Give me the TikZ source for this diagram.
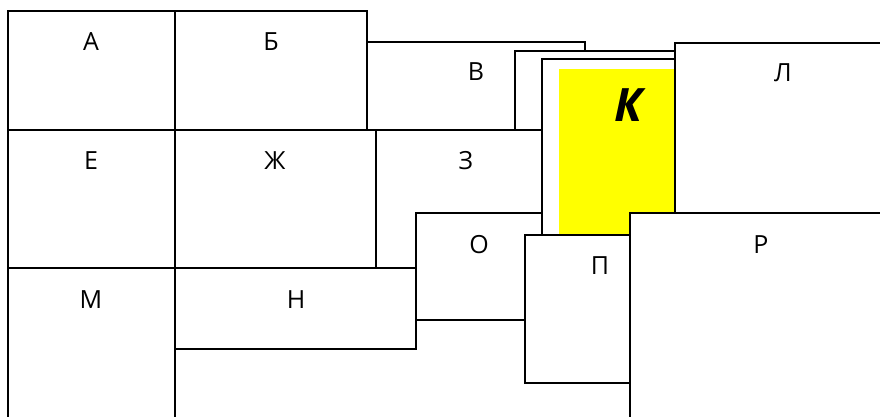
\documentclass[tikz,border=0pt]{standalone}
\usepackage{fontspec}
\setmainfont{Open Sans}
\definecolor{kyellow}{RGB}{255,255,0}
\begin{document}
\begin{tikzpicture}[x=1pt,y=-1pt,
  cell/.style={draw=black,fill=white,line width=2pt},
  lab/.style={inner sep=0pt,font=\fontsize{25}{28}\selectfont},
  biglab/.style={inner sep=0pt,font=\fontsize{46}{50}\selectfont\bfseries\itshape}]
\useasboundingbox (0,0) rectangle (880,417);
\clip (0,0) rectangle (880,417);
% back to front
\path[cell] (8,11) rectangle (175,130);
\path[cell] (175,11) rectangle (367,130);
\path[cell] (367,42) rectangle (585,130);
\path[cell] (515,51) rectangle (720,200);
\path[cell] (542,59) rectangle (720,300);
\fill[kyellow] (559,69) rectangle (700,300);
\path[cell] (8,130) rectangle (175,268);
\path[cell] (175,130) rectangle (376,268);
\path[cell] (376,130) rectangle (542,268);
\path[cell] (675,43) rectangle (900,213);
\path[cell] (8,268) rectangle (175,440);
\path[cell] (175,268) rectangle (416,349);
\path[cell] (416,213) rectangle (542,320);
\path[cell] (525,235) rectangle (630,383);
\path[cell] (630,213) rectangle (900,440);
% labels
\node[lab] (a) at (91,42) {А};
\node[lab] (b) at (271,42) {Б};
\node[lab] (v) at (476,72) {В};
\node[biglab] (k) at (628,105) {К};
\node[lab] (l) at (783,73) {Л};
\node[lab] (e) at (91,161) {Е};
\node[lab] (zh) at (275,161) {Ж};
\node[lab] (z) at (466,161) {З};
\node[lab] (o) at (479,245) {О};
\node[lab] (p) at (600,266) {П};
\node[lab] (r) at (761,245) {Р};
\node[lab] (m) at (91,300) {М};
\node[lab] (n) at (296,300) {Н};
\end{tikzpicture}
\end{document}
